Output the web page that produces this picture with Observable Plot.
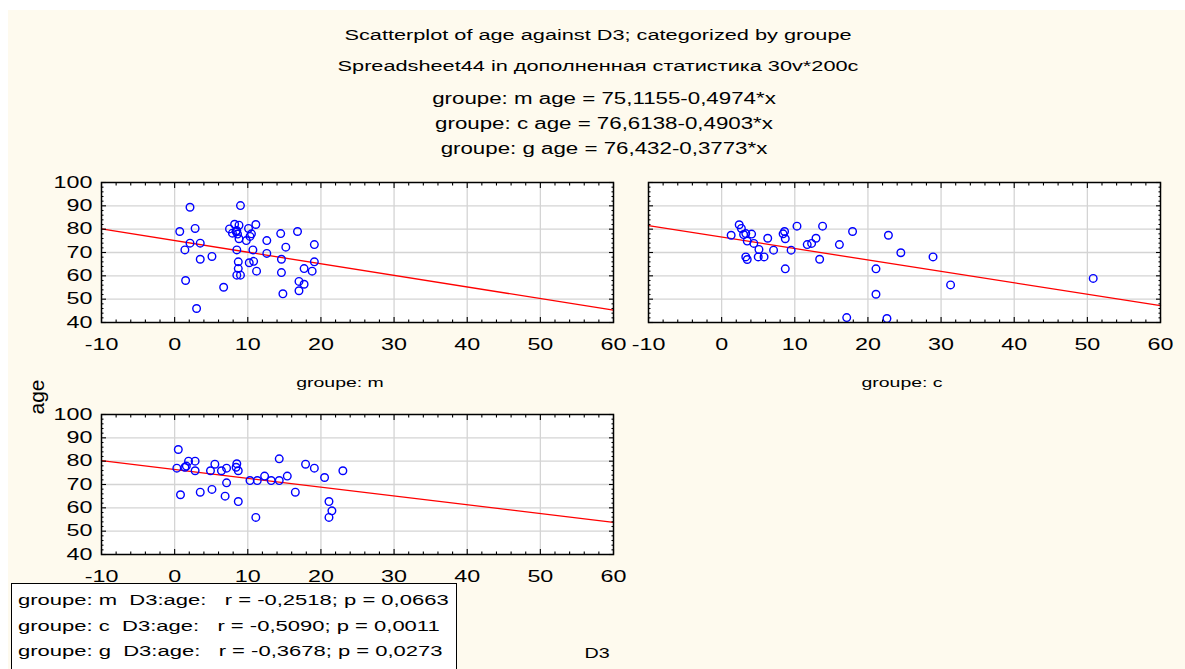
<!DOCTYPE html>
<html>
<head>
<meta charset="utf-8">
<script src="https://cdn.jsdelivr.net/npm/d3@7"></script>
<script src="https://cdn.jsdelivr.net/npm/@observablehq/plot@0.6"></script>
<style>
  body { margin: 0; background: #ffffff; }
  #root { position: relative; width: 1185px; height: 669px; overflow: hidden; font-family: "Liberation Sans", Arial, sans-serif; color: #000; }
  .t { position: absolute; white-space: pre; line-height: 1; }
</style>
</head>
<body>
<div id="root"></div>
<script>
// ---------- data ----------
const groups = ["m", "c", "g"];
const intercepts = [75.1155, 76.6138, 76.432];
const slopes = [-0.4974, -0.4903, -0.3773];
const rValues = [-0.2518, -0.5090, -0.3678];
const pValues = [0.0663, 0.0011, 0.0273];

const xTicks = [-10, 0, 10, 20, 30, 40, 50, 60];
const yTicks = [40, 50, 60, 70, 80, 90, 100];

const mD3 = [2.1, 9.0, 0.7, 2.8, 2.1, 3.5, 1.4, 3.5, 5.1, 1.5, 3.0, 6.7, 8.2, 8.8, 7.5, 7.9, 8.4, 8.6, 8.8, 8.5, 10.1, 11.1, 10.5, 10.3, 9.8, 8.5, 10.7, 8.7, 8.7, 8.5, 9.0, 10.2, 10.8, 11.2, 12.6, 12.6, 14.5, 14.6, 14.6, 14.8, 15.2, 16.8, 17.7, 17.0, 17.7, 17.0, 19.1, 19.1, 18.8];
const mAge = [89.4, 90.1, 79, 80.3, 74, 74, 71.1, 67.1, 68.3, 58, 46, 55.1, 82.1, 81.7, 80.1, 78.3, 79, 77.9, 75.9, 79.4, 80.3, 82, 78, 76.9, 75.1, 71.1, 71.1, 66, 63.1, 60.3, 60.3, 65.6, 66.2, 62, 75.1, 69.6, 78.1, 67.1, 61.4, 52.3, 72.3, 79, 63.1, 57.6, 56.4, 53.6, 73.4, 66, 62];

const cD3 = [1.3, 2.4, 2.7, 3.0, 3.3, 4.1, 3.5, 4.4, 5.1, 3.3, 3.5, 5.0, 5.8, 6.3, 7.1, 8.4, 8.6, 8.7, 8.7, 9.5, 10.3, 11.7, 12.3, 12.9, 13.4, 13.8, 16.1, 17.9, 21.1, 21.1, 17.1, 22.8, 24.5, 28.9, 31.3, 50.8, 22.6];
const cAge = [77.4, 81.9, 80.3, 77.7, 78.1, 77.9, 74.9, 73.9, 71.3, 68.1, 67, 68.1, 68.1, 76.1, 71, 78, 79, 75.9, 63, 71, 81.3, 73.4, 73.9, 76.1, 67.1, 81.3, 73.4, 79, 63, 52.1, 42.1, 77.4, 69.9, 68.1, 56.1, 58.9, 41.7];

const gD3 = [0.5, 0.3, 0.8, 1.4, 1.6, 1.9, 2.8, 2.8, 3.5, 4.9, 5.1, 5.5, 6.4, 7.1, 7.1, 6.9, 8.4, 8.5, 8.7, 8.7, 10.3, 11.3, 11.1, 12.3, 13.2, 14.3, 14.3, 15.4, 16.5, 17.9, 19.1, 20.5, 21.1, 21.5, 21.1, 23.0];
const gAge = [85, 77, 65.6, 77.4, 77.9, 80, 80, 75.9, 66.7, 75.9, 67.9, 78.7, 75.9, 77, 70.7, 65, 77.4, 78.9, 75.9, 62.7, 71.7, 71.7, 55.9, 73.6, 71.7, 71.7, 81, 73.6, 66.7, 78.7, 77, 73, 62.7, 58.7, 55.9, 75.9];

const titleText = "Scatterplot of age against D3; categorized by groupe";
const subtitleText = "Spreadsheet44 in дополненная статистика 30v*200c";
const xLabel = "D3";
const yLabel = "age";

// ---------- layout / style ----------
const F = 1.43; // horizontal stretch of the original's lettering
const FONT = "'Liberation Sans', Arial, sans-serif";
const root = document.getElementById("root");
const comma = s => String(s).replace(".", ",");

const bg = document.createElement("div");
Object.assign(bg.style, {position: "absolute", left: "8px", top: "10px", right: "0", bottom: "0", background: "#fefaee"});
root.appendChild(bg);

function addText(txt, cx, cy, size, opts = {}) {
  const d = document.createElement("div");
  d.className = "t";
  d.textContent = txt;
  d.style.left = cx + "px";
  d.style.top = cy + "px";
  d.style.fontSize = size + "px";
  d.style.transform = opts.rotate ? `translate(-50%,-50%) rotate(-90deg)` : `translate(-50%,-50%) scaleX(${opts.stretch ?? F})`;
  root.appendChild(d);
  return d;
}

addText(titleText, 598, 35, 15.2);
addText(subtitleText, 598, 66, 15.2);
groups.forEach((g, i) => {
  const eq = `groupe: ${g} age = ${comma(intercepts[i])}-${comma(Math.abs(slopes[i]).toFixed(4))}*x`;
  addText(eq, 604, 99 + i * 25, 15.6);
});

const xMinor = d3.range(-10, 61, 2).filter(v => v % 10 !== 0);
const yMinor = d3.range(40, 101, 2).filter(v => v % 10 !== 0);

function inwardTicks(ticks, len) {
  const o = {label: null, tickFormat: () => "", strokeWidth: 1.1, tickSize: len};
  return [
    Plot.axisX({...o, ticks, anchor: "bottom", dy: -len}),
    Plot.axisX({...o, ticks, anchor: "top", dy: len})
  ];
}
function inwardTicksY(ticks, len) {
  const o = {label: null, tickFormat: () => "", strokeWidth: 1.1, tickSize: len};
  return [
    Plot.axisY({...o, ticks, anchor: "left", dx: len}),
    Plot.axisY({...o, ticks, anchor: "right", dx: -len})
  ];
}

function panel(xs, ys, a, b, showY) {
  const pts = xs.map((x, i) => ({x, y: ys[i]}));
  const fit = d3.extent(xTicks).map(x => ({x, y: a + b * x}));
  return Plot.plot({
    width: 582, height: 180,
    marginLeft: 50, marginRight: 20, marginTop: 10, marginBottom: 30,
    x: {domain: d3.extent(xTicks)},
    y: {domain: d3.extent(yTicks)},
    style: {background: "transparent", fontFamily: FONT, fontSize: "16.3px", color: "#000", overflow: "visible"},
    marks: [
      Plot.frame({fill: "white", stroke: null}),
      Plot.gridX({ticks: xTicks.slice(1, -1), stroke: "#d4d4d4", strokeOpacity: 1, strokeWidth: 1.3}),
      Plot.gridY({ticks: yTicks.slice(1, -1), stroke: "#d4d4d4", strokeOpacity: 1, strokeWidth: 1.3}),
      Plot.line(fit, {x: "x", y: "y", stroke: "#ff0000", strokeWidth: 1.3}),
      Plot.dot(pts, {x: "x", y: "y", r: 3.8, stroke: "#0000ff", strokeWidth: 1.4, fill: "none"}),
      Plot.axisX({ticks: xTicks, anchor: "bottom", tickSize: 0, tickPadding: 16, label: null, tickFormat: d => String(d)}),
      showY ? Plot.axisY({ticks: yTicks, anchor: "left", tickSize: 0, tickPadding: 9, label: null, tickFormat: d => String(d)}) : null,
      ...inwardTicks(xTicks, 5),
      ...inwardTicks(xMinor, 2.5),
      ...inwardTicksY(yTicks, 5),
      ...inwardTicksY(yMinor, 2.5),
      Plot.frame({stroke: "#000", strokeWidth: 1.5})
    ]
  });
}

// stretch tick labels horizontally around their anchor (after they are in the DOM)
function stretchTexts(svg) {
  svg.querySelectorAll("text").forEach(t => {
    if (!t.textContent) return;
    const g = document.createElementNS("http://www.w3.org/2000/svg", "g");
    t.parentNode.insertBefore(g, t);
    g.appendChild(t);
    const bb = g.getBBox();
    const anchor = getComputedStyle(t).textAnchor;
    const ax = anchor === "end" ? bb.x + bb.width : anchor === "middle" ? bb.x + bb.width / 2 : bb.x;
    g.setAttribute("transform", `translate(${ax},0) scale(${F},1) translate(${-ax},0)`);
  });
}

function place(svg, left, top) {
  const w = document.createElement("div");
  Object.assign(w.style, {position: "absolute", left: left + "px", top: top + "px"});
  w.appendChild(svg);
  root.appendChild(w);
  stretchTexts(svg);
}

place(panel(mD3, mAge, intercepts[0], slopes[0], true), 51, 172);
place(panel(cD3, cAge, intercepts[1], slopes[1], false), 598, 172);
place(panel(gD3, gAge, intercepts[2], slopes[2], true), 51, 404);

addText(`groupe: ${groups[0]}`, 340, 383, 13.6);
addText(`groupe: ${groups[1]}`, 902, 383, 13.6);
addText(yLabel, 36, 397, 21, {rotate: true});
addText(xLabel, 597, 654, 13.8);

// stats box
const box = document.createElement("div");
Object.assign(box.style, {position: "absolute", left: "11px", top: "583px", width: "446px", height: "100px", background: "#fff", border: "1px solid #000", boxSizing: "border-box"});
root.appendChild(box);
groups.forEach((g, i) => {
  const s = `groupe: ${g}  D3:age:   r = ${comma(rValues[i].toFixed(4))}; p = ${comma(pValues[i].toFixed(4))}`;
  const d = document.createElement("div");
  d.className = "t";
  d.textContent = s;
  Object.assign(d.style, {left: "6px", top: (16 + i * 25.5) + "px", fontSize: "15.4px", transformOrigin: "0 50%", transform: `translateY(-50%) scaleX(${F})`});
  box.appendChild(d);
});
</script>
</body>
</html>
